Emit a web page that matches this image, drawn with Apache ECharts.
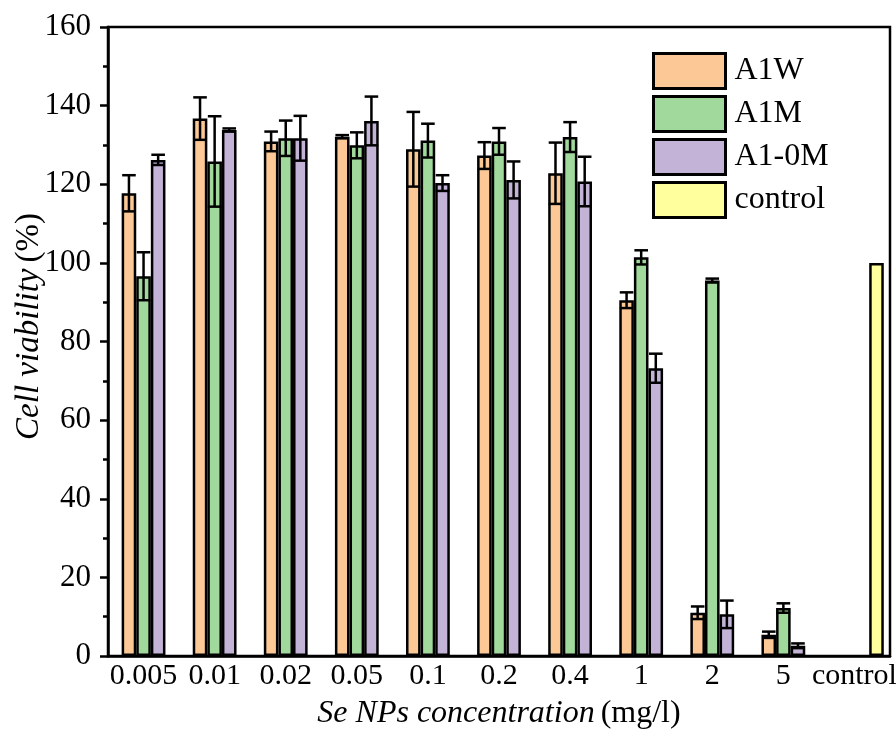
<!DOCTYPE html>
<html>
<head>
<meta charset="utf-8">
<script src="https://cdn.jsdelivr.net/npm/echarts@6/dist/echarts.min.js"></script>
<style>
  html, body { margin: 0; padding: 0; background: #fff; }
  #chart { width: 896px; height: 729px; }
</style>
</head>
<body>
<div id="chart"></div>
<script>
// Se NP concentrations (mg/l) plus the untreated control
const categories = ['0.005', '0.01', '0.02', '0.05', '0.1', '0.2', '0.4', '1', '2', '5', 'control'];

// Cell viability (%) means and standard deviations per formulation
const a1w      = [117.7, 136.7, 130.9, 132.1, 128.9, 127.3, 122.8, 90.5, 11.0, 5.4];
const a1wErr   = [4.6, 5.4, 2.5, 0.4, 9.5, 3.4, 7.8, 2.0, 1.6, 0.8];
const a1m      = [96.6, 125.8, 131.7, 129.9, 131.1, 130.9, 132.0, 101.4, 95.5, 12.2];
const a1mErr   = [6.1, 11.5, 4.5, 3.3, 4.3, 3.4, 3.8, 1.8, 0.5, 1.2];
const a10m     = [126.2, 133.8, 131.7, 136.1, 120.3, 121.1, 120.7, 73.2, 10.6, 2.6];
const a10mErr  = [1.3, 0.4, 5.7, 6.2, 2.0, 4.7, 6.3, 3.7, 3.5, 0.6];
const controlValue = 100;

const seriesNames = ['A1W', 'A1M', 'A1-0M', 'control'];
const colors = ['#FBC896', '#A1D99C', '#C3B3D7', '#FFFF9E'];
const yTicks = { min: 0, max: 160, interval: 20 };

const FONT = "'Liberation Serif', 'Times New Roman', serif";
const BAR_W = 14.6;           // px width of each bar
const CONTROL_SHIFT = 0.31;   // control bar sits right of its category centre

const chart = echarts.init(document.getElementById('chart'), null, { renderer: 'canvas' });

const groups = [
  { name: seriesNames[0], values: a1w, errs: a1wErr, color: colors[0] },
  { name: seriesNames[1], values: a1m, errs: a1mErr, color: colors[1] },
  { name: seriesNames[2], values: a10m, errs: a10mErr, color: colors[2] }
];

const series = [];
groups.forEach(function (g) {
  series.push({
    name: g.name,
    type: 'bar',
    xAxisIndex: 0,
    yAxisIndex: 0,
    barWidth: BAR_W,
    barGap: '0%',
    data: g.values.concat([null]),
    itemStyle: { color: g.color, borderColor: '#000', borderWidth: 2.5 },
    z: 2
  });
});

// Symmetric error bars with caps at both ends, drawn over the bars
groups.forEach(function (g, k) {
  const offset = (k - 1) * BAR_W;
  series.push({
    name: g.name + ' SD',
    type: 'custom',
    xAxisIndex: 0,
    yAxisIndex: 0,
    z: 5,
    silent: true,
    data: g.values.map(function (v, i) { return [i, v, g.errs[i]]; }),
    encode: { x: 0, y: 1 },
    renderItem: function (params, api) {
      const i = api.value(0), v = api.value(1), e = api.value(2);
      const top = api.coord([i, v + e]);
      const bot = api.coord([i, v - e]);
      const cx = top[0] + offset;
      const half = BAR_W / 2 - 0.5;
      const style = { stroke: '#000', lineWidth: 2.5, fill: null };
      return {
        type: 'group',
        children: [
          { type: 'line', shape: { x1: cx, y1: top[1], x2: cx, y2: bot[1] }, style: style },
          { type: 'line', shape: { x1: cx - half, y1: top[1], x2: cx + half, y2: top[1] }, style: style },
          { type: 'line', shape: { x1: cx - half, y1: bot[1], x2: cx + half, y2: bot[1] }, style: style }
        ]
      };
    }
  });
});

// Control bar on a hidden value axis aligned with the category slots
series.push({
  name: seriesNames[3],
  type: 'bar',
  xAxisIndex: 1,
  yAxisIndex: 0,
  barWidth: BAR_W,
  data: [[categories.indexOf('control') + 0.5 + CONTROL_SHIFT, controlValue]],
  itemStyle: { color: colors[3], borderColor: '#000', borderWidth: 2.5 },
  z: 2
});

const option = {
  animation: false,
  backgroundColor: '#fff',
  textStyle: { fontFamily: FONT, color: '#000' },
  grid: {
    left: 108, right: 6, top: 27, bottom: 73,
    outerBoundsMode: 'none',
    containLabel: false,
    show: true, borderColor: '#000', borderWidth: 2.5, backgroundColor: 'transparent'
  },
  legend: {
    data: seriesNames,
    orient: 'vertical',
    left: 652, top: 52,
    icon: 'rect',
    itemWidth: 72, itemHeight: 35,
    itemGap: 5,
    padding: 0,
    textStyle: { fontFamily: FONT, fontSize: 32, color: '#000', padding: [0, 0, 0, 4] },
    itemStyle: { borderColor: '#000', borderWidth: 3 }
  },
  xAxis: [
    {
      type: 'category',
      data: categories,
      boundaryGap: true,
      axisLine: { lineStyle: { color: '#000', width: 2.5 } },
      axisTick: { show: false },
      axisLabel: { color: '#000', fontFamily: FONT, fontSize: 30, margin: 5, interval: 0 },
      name: '{it|Se NPs concentration}  {rm|(mg/l)}',
      nameLocation: 'middle',
      nameGap: 42,
      nameTextStyle: {
        rich: {
          it: { fontFamily: FONT, fontSize: 32, fontStyle: 'italic', color: '#000' },
          rm: { fontFamily: FONT, fontSize: 32, color: '#000' }
        }
      }
    },
    {
      type: 'value',
      min: 0, max: categories.length,
      show: false
    }
  ],
  yAxis: {
    type: 'value',
    min: yTicks.min, max: yTicks.max, interval: yTicks.interval,
    axisLine: { show: true, lineStyle: { color: '#000', width: 2.5 } },
    axisTick: { show: true, inside: false, length: 8, lineStyle: { color: '#000', width: 2.5 } },
    minorTick: { show: true, splitNumber: 2, length: 5, lineStyle: { color: '#000', width: 2.5 } },
    splitLine: { show: false },
    axisLabel: { color: '#000', fontFamily: FONT, fontSize: 31, margin: 17 },
    name: '{it|Cell viability}  {rm|(%)}',
    nameLocation: 'middle',
    nameRotate: 90,
    nameGap: 62,
    nameMoveOverlap: false,
    nameTextStyle: {
      padding: [0, 0, 0, 30],
      rich: {
        it: { fontFamily: FONT, fontSize: 33, fontStyle: 'italic', color: '#000' },
        rm: { fontFamily: FONT, fontSize: 33, color: '#000' }
      }
    }
  },
  series: series
};

chart.setOption(option);
</script>
</body>
</html>
